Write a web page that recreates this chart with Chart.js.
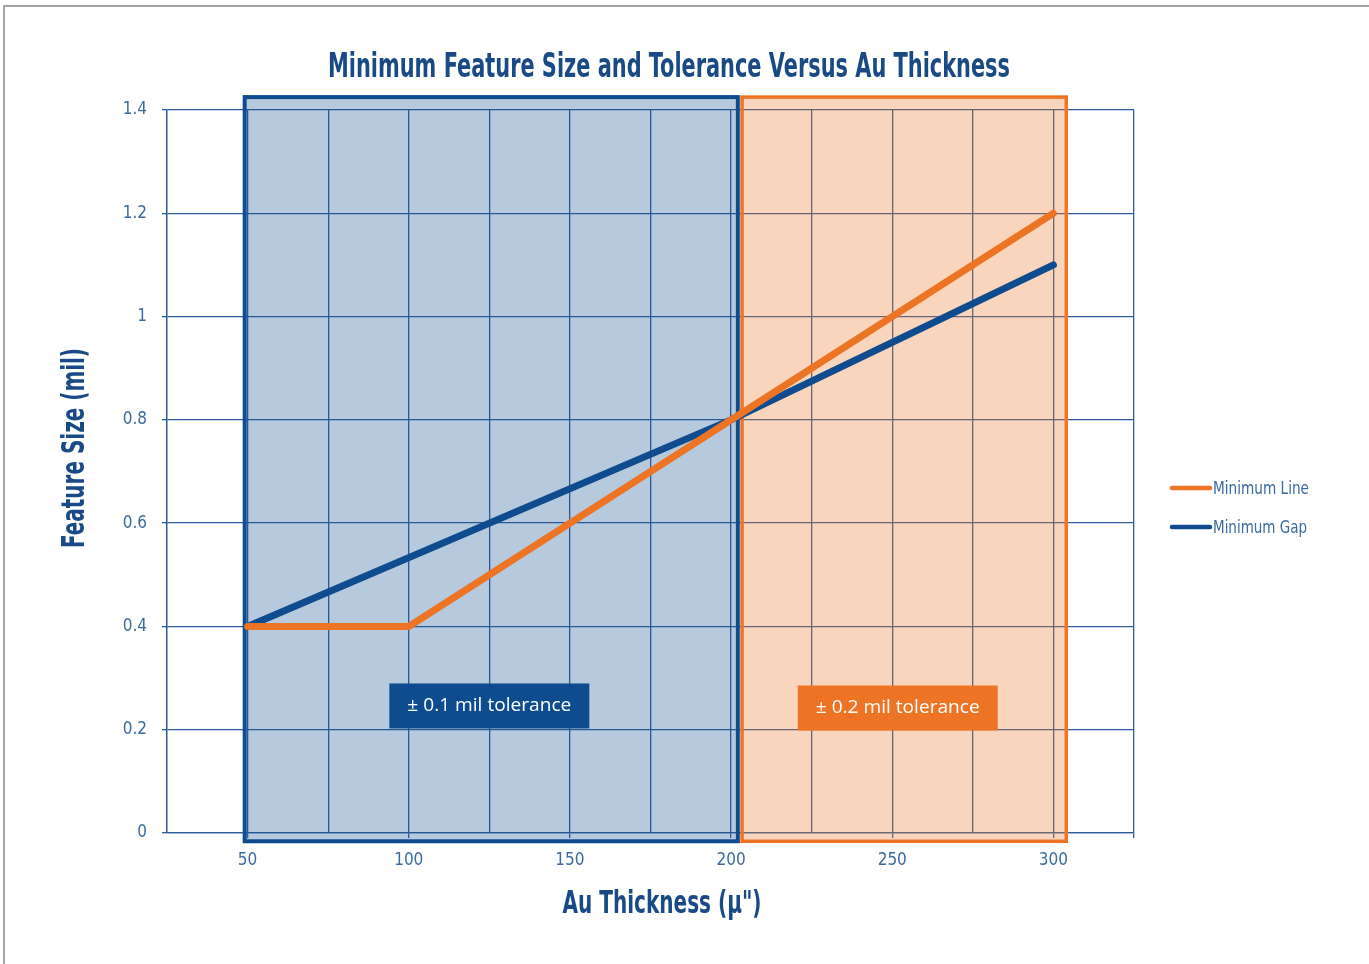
<!DOCTYPE html>
<html>
<head>
<meta charset="utf-8">
<script src="https://cdn.jsdelivr.net/npm/chart.js@4"></script>
<style>
    html, body { margin: 0; padding: 0; background: #fff; }
    #wrap { position: relative; width: 1369px; height: 964px; }
    #frame { position: absolute; left: 3px; top: 5px; right: 0; bottom: 0;
             border-top: 2px solid #a3a3a3; border-left: 2px solid #a3a3a3; }
    canvas { position: absolute; left: 0; top: 0; }
</style>
</head>
<body>
<div id="wrap">
    <div id="frame"></div>
    <canvas id="chart" width="1369" height="964"></canvas>
</div>
<script>
// Dữ liệu
const seriesNames = ['Minimum Line', 'Minimum Gap']
const lineX = [50, 100, 300]
const lineY = [0.4, 0.4, 1.2]
const gapX = [50, 200, 300]
const gapY = [0.4, 0.8, 1.1]
const xLabelTicks = [50, 100, 150, 200, 250, 300]

// vùng dung sai (đơn vị dữ liệu)
const zoneLabels = ['± 0.1 mil tolerance', '± 0.2 mil tolerance']
const zoneFrom = [49.1, 203.4]
const zoneTo = [202.1, 304]
const zoneLabelX = [125, 251.7]
const zoneLabelY = [0.246, 0.242]

const BLUE = '#0f4c8f'
const ORANGE = '#ec7424'
const GRID = '#2d5d9b'
const TEXT = '#3c6a9f'
const TITLE = '#1a4a86'
const narrow = "'Liberation Sans Narrow', 'DejaVu Sans Condensed', 'Roboto Condensed', Roboto, sans-serif"

// vẽ chữ, co giãn ngang cho vừa chiều rộng
function fitText(ctx, text, cx, cy, width, font, color, rotate) {
    ctx.save()
    ctx.font = font
    ctx.fillStyle = color
    ctx.textAlign = 'center'
    ctx.textBaseline = 'middle'
    ctx.translate(cx, cy)
    if (rotate) ctx.rotate(-Math.PI / 2)
    const w = ctx.measureText(text).width
    ctx.scale(width / w, 1)
    ctx.fillText(text, 0, 0)
    ctx.restore()
}

const decor = {
    id: 'decor',
    beforeDatasetsDraw(chart) {
        const ctx = chart.ctx
        const xs = chart.scales.x, ys = chart.scales.y
        const top = ys.getPixelForValue(1.425)
        const bottom = ys.getPixelForValue(-0.016)
        const fills = ['rgba(15,76,143,0.3)', 'rgba(236,116,36,0.3)']
        const strokes = [BLUE, ORANGE]
        const widths = [4, 3.5]
        ctx.save()
        for (let i = 0; i < zoneFrom.length; i++) {
            const l = xs.getPixelForValue(zoneFrom[i])
            const r = xs.getPixelForValue(zoneTo[i])
            ctx.fillStyle = fills[i]
            ctx.fillRect(l, top, r - l, bottom - top)
        }
        for (let i = 0; i < zoneFrom.length; i++) {
            const l = xs.getPixelForValue(zoneFrom[i])
            const r = xs.getPixelForValue(zoneTo[i])
            ctx.strokeStyle = strokes[i]
            ctx.lineWidth = widths[i]
            ctx.strokeRect(l, top, r - l, bottom - top)
        }
        ctx.restore()
    },
    afterDatasetsDraw(chart) {
        const ctx = chart.ctx
        const xs = chart.scales.x, ys = chart.scales.y
        const area = chart.chartArea
        const boxColors = [BLUE, ORANGE]

        // nhãn dung sai
        for (let i = 0; i < zoneLabels.length; i++) {
            const cx = xs.getPixelForValue(zoneLabelX[i])
            const cy = ys.getPixelForValue(zoneLabelY[i])
            ctx.fillStyle = boxColors[i]
            ctx.fillRect(cx - 100, cy - 22.5, 200, 45)
            fitText(ctx, zoneLabels[i], cx, cy, 164, "19px 'Open Sans', sans-serif", '#ffffff')
        }

        // tiêu đề
        fitText(ctx, 'Minimum Feature Size and Tolerance Versus Au Thickness', 669, 68, 682,
            "bold 33px " + narrow, TITLE)
        fitText(ctx, 'Au Thickness (µ")', 662, 905, 199, "bold 32px " + narrow, TITLE)
        fitText(ctx, 'Feature Size (mil)', 76, 448, 200, "bold 32px " + narrow, TITLE, true)

        // chú thích
        const legendW = [96, 94]
        chart.data.datasets.forEach((ds, i) => {
            const y = 488 + i * 39
            const x0 = area.right + 38
            ctx.save()
            ctx.strokeStyle = ds.borderColor
            ctx.lineWidth = 4.5
            ctx.lineCap = 'round'
            ctx.beginPath()
            ctx.moveTo(x0, y)
            ctx.lineTo(x0 + 38, y)
            ctx.stroke()
            ctx.restore()
            fitText(ctx, ds.label, x0 + 41 + legendW[i] / 2, y + 1, legendW[i], "18px " + narrow, TEXT)
        })
    }
}

const ctx = document.getElementById('chart').getContext('2d')

new Chart(ctx, {
    type: 'line',
    data: {
        datasets: [
            {
                label: seriesNames[0],
                data: lineX.map((x, i) => ({ x: x, y: lineY[i] })),
                borderColor: ORANGE,
                borderWidth: 7,
                borderCapStyle: 'round',
                borderJoinStyle: 'round',
                pointRadius: 0,
                tension: 0
            },
            {
                label: seriesNames[1],
                data: gapX.map((x, i) => ({ x: x, y: gapY[i] })),
                borderColor: BLUE,
                borderWidth: 7,
                borderCapStyle: 'round',
                borderJoinStyle: 'round',
                pointRadius: 0,
                tension: 0
            }
        ]
    },
    options: {
        responsive: false,
        animation: false,
        layout: { padding: { top: 110, right: 235, left: 0, bottom: 0 } },
        plugins: {
            legend: { display: false },
            tooltip: { enabled: false }
        },
        scales: {
            x: {
                type: 'linear',
                min: 25,
                max: 325,
                afterFit: (scale) => { scale.height = 131 },
                ticks: {
                    stepSize: 25,
                    autoSkip: false,
                    maxRotation: 0,
                    padding: 12,
                    color: TEXT,
                    font: { family: narrow, size: 17 },
                    callback: (value) => xLabelTicks.includes(value) ? String(value) : ''
                },
                grid: {
                    color: GRID,
                    lineWidth: 1.3,
                    tickLength: 5,
                    tickColor: (c) => (c.tick && (xLabelTicks.includes(c.tick.value) || c.tick.value === 325)) ? GRID : 'rgba(0,0,0,0)'
                },
                border: { color: GRID, width: 1.3 }
            },
            y: {
                min: 0,
                max: 1.4,
                afterFit: (scale) => { scale.width = 167 },
                ticks: {
                    stepSize: 0.2,
                    padding: 15,
                    color: TEXT,
                    font: { family: narrow, size: 17 },
                    callback: (value) => String(Number(value.toFixed(1)))
                },
                grid: {
                    color: GRID,
                    lineWidth: 1.3,
                    tickLength: 5
                },
                border: { color: GRID, width: 1.3 }
            }
        }
    },
    plugins: [decor]
})
</script>
</body>
</html>
